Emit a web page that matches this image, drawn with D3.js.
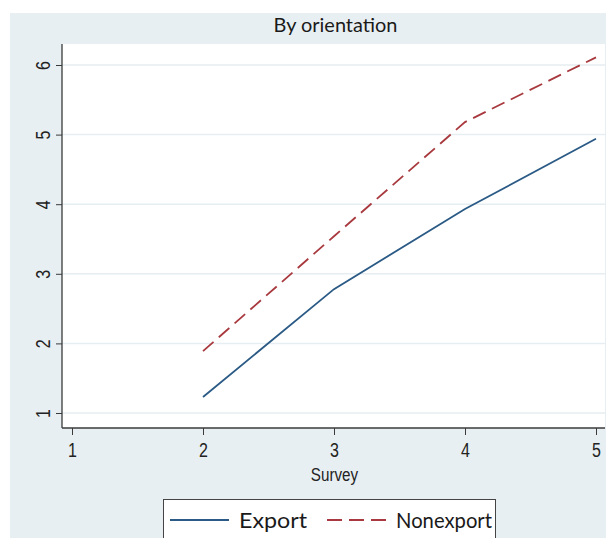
<!DOCTYPE html>
<html><head><meta charset="utf-8">
<script src="https://cdn.jsdelivr.net/npm/d3@7"></script>
<style>
html,body{margin:0;padding:0;background:#fff;}
svg{display:block;}
</style></head>
<body>
<svg id="chart" width="606" height="538"></svg>
<script>
const title = "By orientation";
const xLabel = "Survey";
const surveys = [2, 3, 4, 5];
const exportVals = [1.23, 2.78, 3.93, 4.94];
const nonexportVals = [1.89, 3.54, 5.18, 6.11];
const xTicks = [1, 2, 3, 4, 5];
const yTicks = [1, 2, 3, 4, 5, 6];
const seriesNames = ["Export", "Nonexport"];

const svg = d3.select("#chart");
const bg = "#e8eff2";
svg.append("rect").attr("x", 10).attr("y", 13).attr("width", 596).attr("height", 525).attr("fill", bg);

const plot = {left: 62, right: 605, top: 44, bottom: 428};
svg.append("rect").attr("x", plot.left).attr("y", plot.top)
  .attr("width", plot.right - plot.left).attr("height", plot.bottom - plot.top).attr("fill", "#fff");

const x = d3.scaleLinear().domain([1, 5]).range([72, 596]);
const y = d3.scaleLinear().domain([1, 6]).range([413, 65]);

// gridlines
svg.append("g").selectAll("line").data(yTicks).join("line")
  .attr("x1", plot.left).attr("x2", plot.right)
  .attr("y1", d => y(d)).attr("y2", d => y(d))
  .attr("stroke", "#e6eef1").attr("stroke-width", 1.5);

// title
svg.append("text").attr("x", (plot.left + plot.right) / 2 + 2).attr("y", 32)
  .attr("text-anchor", "middle").attr("font-family", "Lato, 'Open Sans', sans-serif")
  .attr("font-size", 19).attr("fill", "#1a1a1a")
  .attr("textLength", 124).attr("lengthAdjust", "spacingAndGlyphs").text(title);

// axes
const axisColor = "#3a3a3a";
const tickFont = "'Liberation Sans', Arial, sans-serif";
const yAxis = svg.append("g").attr("transform", `translate(${plot.left},0)`)
  .call(d3.axisLeft(y).tickValues(yTicks).tickSize(6).tickPadding(7).tickFormat(d3.format("d")));
yAxis.select(".domain").remove();
yAxis.append("line").attr("x1", 0).attr("x2", 0).attr("y1", plot.top).attr("y2", plot.bottom)
  .attr("stroke", axisColor).attr("stroke-width", 1.3);
yAxis.selectAll(".tick line").attr("stroke", axisColor);
yAxis.selectAll(".tick text")
  .attr("font-family", tickFont).attr("font-size", 20).attr("fill", "#222")
  .attr("text-anchor", "middle").attr("x", null).attr("dy", "0.36em").attr("y", 0)
  .attr("transform", "translate(-19,0) rotate(-90) scale(0.8,1)");

const xAxis = svg.append("g").attr("transform", `translate(0,${plot.bottom})`)
  .call(d3.axisBottom(x).tickValues(xTicks).tickSize(7).tickPadding(4).tickFormat(d3.format("d")));
xAxis.select(".domain").remove();
xAxis.append("line").attr("x1", plot.left).attr("x2", plot.right).attr("y1", 0).attr("y2", 0)
  .attr("stroke", axisColor).attr("stroke-width", 1.3);
xAxis.selectAll(".tick line").attr("stroke", axisColor);
xAxis.selectAll(".tick text")
  .attr("font-family", tickFont).attr("font-size", 20).attr("fill", "#222")
  .attr("y", null).attr("dy", null)
  .attr("transform", "translate(0,29) scale(0.8,1)");

svg.append("text")
  .attr("transform", `translate(${(plot.left + plot.right) / 2 + 1},481) scale(0.8,1)`)
  .attr("text-anchor", "middle")
  .attr("font-family", tickFont)
  .attr("font-size", 19).attr("fill", "#222").text(xLabel);

// lines
const colors = ["#2a5a85", "#a8393e"];
const dashes = [null, "14,7"];
const allVals = [exportVals, nonexportVals];
const line = d3.line().x(d => x(d[0])).y(d => y(d[1]));
allVals.forEach((vals, i) => {
  svg.append("path").datum(surveys.map((s, j) => [s, vals[j]]))
    .attr("d", line).attr("fill", "none").attr("stroke", colors[i])
    .attr("stroke-width", 1.8).attr("stroke-dasharray", dashes[i]);
});

// legend
const lg = svg.append("g");
lg.append("rect").attr("x", 163.5).attr("y", 499.5).attr("width", 332).attr("height", 45)
  .attr("fill", "#fff").attr("stroke", "#444").attr("stroke-width", 1);
const legendItems = [{lx: 170, tx: 239, w: 68}, {lx: 327, tx: 396, w: 96}];
legendItems.forEach((it, i) => {
  lg.append("line").attr("x1", it.lx).attr("x2", it.lx + 59).attr("y1", 520).attr("y2", 520)
    .attr("stroke", colors[i]).attr("stroke-width", 1.8).attr("stroke-dasharray", dashes[i] ? "15,7" : null);
  lg.append("text").attr("x", it.tx).attr("y", 528)
    .attr("font-family", "Lato, 'Open Sans', sans-serif").attr("font-size", 22).attr("fill", "#1a1a1a")
    .attr("textLength", it.w).attr("lengthAdjust", "spacingAndGlyphs")
    .text(seriesNames[i]);
});
</script>
</body></html>
